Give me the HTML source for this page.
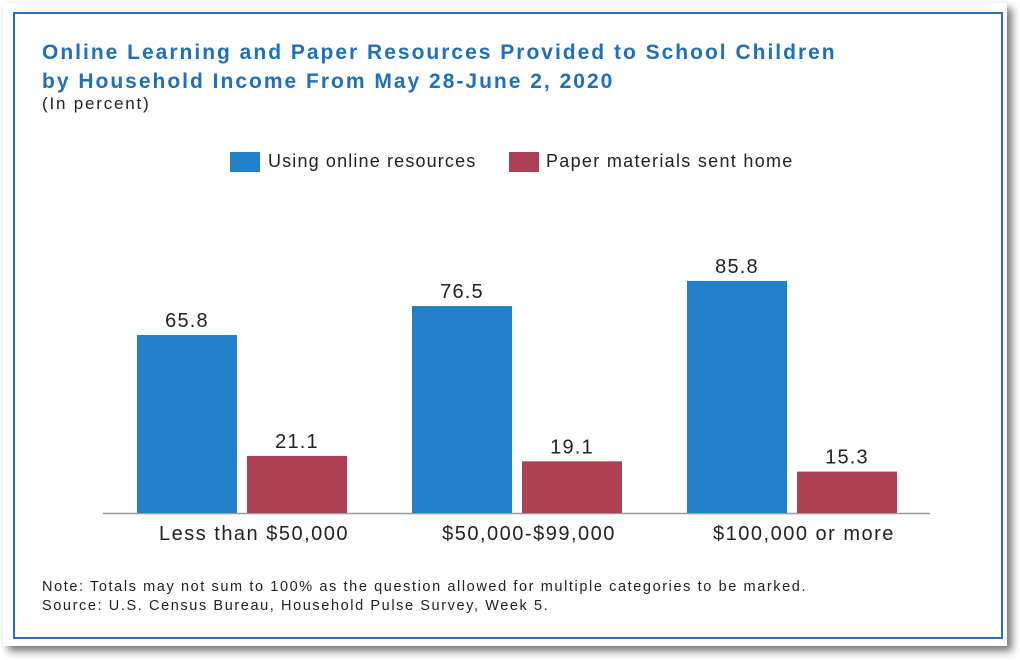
<!DOCTYPE html>
<html><head><meta charset="utf-8"><style>
body{margin:0;width:1020px;height:660px;background:#fff;font-family:"Liberation Sans",sans-serif;position:relative;overflow:hidden}
#card{position:absolute;left:3px;top:3px;width:1004px;height:643px;background:#fff;box-shadow:5px 5px 8px rgba(0,0,0,0.55)}
#frame{position:absolute;left:13px;top:12px;width:986px;height:623px;border:2px solid #2f6db0}
.t{position:absolute;white-space:nowrap}
</style></head><body>
<div id="card"></div>
<div id="frame"></div>
<div class="t" style="left:42px;top:38px;font-size:21px;font-weight:bold;color:#1f6fba;line-height:29px;letter-spacing:2px">Online Learning and Paper Resources Provided to School Children<br>by Household Income From May 28-June 2, 2020</div>
<div class="t" style="left:42px;top:94px;font-size:17px;color:#222;letter-spacing:1.8px">(In percent)</div>
<div style="position:absolute;left:230px;top:152px;width:30px;height:20px;background:#2180c7"></div>
<div class="t" style="left:268px;top:151px;font-size:18px;color:#222;letter-spacing:1.15px">Using online resources</div>
<div style="position:absolute;left:509px;top:152px;width:30px;height:20px;background:#ab4152"></div>
<div class="t" style="left:546px;top:151px;font-size:18px;color:#222;letter-spacing:1.3px">Paper materials sent home</div>
<svg id="chart" width="1020" height="660" style="position:absolute;left:0;top:0"></svg>
<div class="t" style="left:42px;top:578px;font-size:14.5px;color:#222;line-height:19px;letter-spacing:1.6px">Note: Totals may not sum to 100% as the question allowed for multiple categories to be marked.<br>Source: U.S. Census Bureau, Household Pulse Survey, Week 5.</div>
<script>
const categories=["Less than $50,000","$50,000-$99,000","$100,000 or more"];
const online=[65.8,76.5,85.8];
const paper=[21.1,19.1,15.3];
const svg=document.getElementById('chart');
const NS='http://www.w3.org/2000/svg';
const base=513, scale=2.705;
const y=v=>base-v*scale;
const gx=i=>137+i*275;
function mk(t,a){const e=document.createElementNS(NS,t);for(const k in a)e.setAttribute(k,a[k]);svg.appendChild(e);return e;}
const ax=mk('line',{x1:103,x2:930,y1:base+0.5,y2:base+0.5,stroke:'#999','stroke-width':1.5});


categories.forEach((c,i)=>{
 [[online,'#2180c7',0,'online'],[paper,'#ab4152',110,'paper']].forEach(([arr,col,off,nm])=>{
  const v=arr[i];
  const r=mk('rect',{x:gx(i)+off,y:y(v),width:100,height:v*scale,fill:col});
  
  
  const t=mk('text',{x:gx(i)+off+50,y:y(v)-8,'text-anchor':'middle','font-size':20,'letter-spacing':1.2,fill:'#222','font-family':'Liberation Sans'});
  t.textContent=v.toFixed(1);
  
  
 });
 const l=mk('text',{x:gx(i)+117,y:540,'text-anchor':'middle','font-size':20,'letter-spacing':1.5,fill:'#222','font-family':'Liberation Sans'});
 l.textContent=c;
 
 
});
</script>
</body></html>
